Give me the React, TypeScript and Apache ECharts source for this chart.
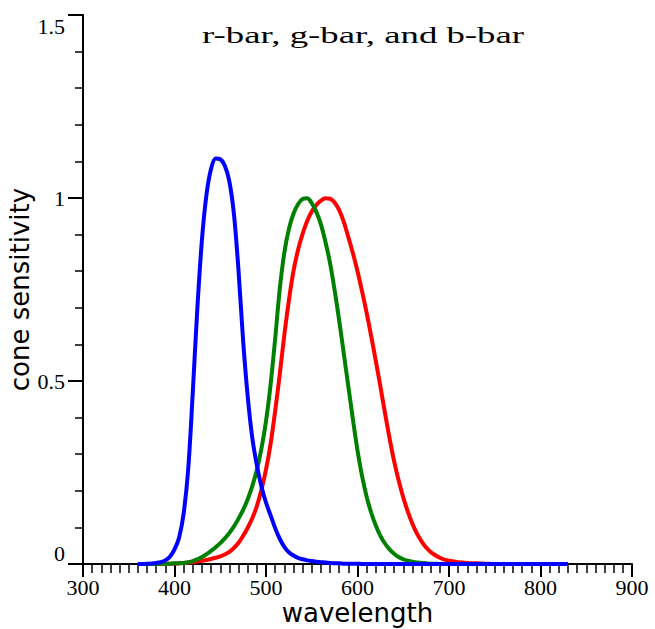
import { useEffect, useRef } from "react";
import * as echarts from "echarts";

// Wavelength samples (nm)
const wavelengths = [
  360, 370,
  380, 385, 390, 395, 400, 405, 410, 415, 420, 425,
  430, 435, 440, 445, 450, 455, 460, 465, 470, 475,
  480, 485, 490, 495, 500, 505, 510, 515, 520, 525,
  530, 535, 540, 545, 550, 555, 560, 565, 570, 575,
  580, 585, 590, 595, 600, 605, 610, 615, 620, 625,
  630, 635, 640, 645, 650, 655, 660, 665, 670, 675,
  680, 685, 690, 695, 700,
  710, 720, 730, 740, 750, 760, 770, 780, 790, 800, 810, 820, 830,
];

const rBar = [
  0, 0,
  0, 0, 0.001, 0.001, 0.001, 0.002, 0.003, 0.004, 0.005, 0.007,
  0.009, 0.011, 0.014, 0.017, 0.021, 0.026, 0.033, 0.044, 0.058, 0.077,
  0.099, 0.125, 0.158, 0.203, 0.258, 0.328, 0.418, 0.518, 0.625, 0.72,
  0.8, 0.858, 0.902, 0.937, 0.963, 0.981, 0.993, 0.999, 0.998, 0.988,
  0.967, 0.935, 0.893, 0.849, 0.8, 0.745, 0.686, 0.622, 0.555, 0.485,
  0.413, 0.344, 0.281, 0.228, 0.182, 0.143, 0.11, 0.083, 0.062, 0.045,
  0.033, 0.024, 0.017, 0.012, 0.009,
  0.005, 0.003, 0.002, 0.001, 0, 0, 0, 0, 0, 0, 0, 0, 0,
];

const gBar = [
  0, 0,
  0, 0.001, 0.001, 0.001, 0.002, 0.002, 0.003, 0.005, 0.008, 0.013,
  0.019, 0.027, 0.036, 0.046, 0.057, 0.07, 0.085, 0.103, 0.124, 0.148,
  0.177, 0.213, 0.257, 0.315, 0.39, 0.49, 0.615, 0.75, 0.85, 0.915,
  0.957, 0.983, 0.997, 0.999, 0.986, 0.962, 0.928, 0.88, 0.822, 0.748,
  0.665, 0.575, 0.485, 0.395, 0.31, 0.24, 0.184, 0.14, 0.105, 0.077,
  0.056, 0.04, 0.028, 0.019, 0.013, 0.009, 0.006, 0.004, 0.003, 0.002,
  0.001, 0.001, 0, 0, 0,
  0, 0, 0, 0, 0, 0, 0, 0, 0, 0, 0, 0, 0,
];

const bBar = [
  0, 0.001,
  0.003, 0.005, 0.01, 0.02, 0.04, 0.072, 0.138, 0.26, 0.47, 0.7,
  0.886, 1.01, 1.08, 1.108, 1.106, 1.088, 1.045, 0.955, 0.8, 0.61,
  0.458, 0.345, 0.27, 0.212, 0.168, 0.133, 0.098, 0.069, 0.047, 0.032,
  0.023, 0.017, 0.013, 0.01, 0.008, 0.006, 0.005, 0.004, 0.003, 0.002,
  0.002, 0.001, 0.001, 0.001, 0.001, 0, 0, 0, 0, 0,
  0, 0, 0, 0, 0, 0, 0, 0, 0, 0,
  0, 0, 0, 0, 0,
  0, 0, 0, 0, 0, 0, 0, 0, 0, 0, 0, 0, 0,
];

const titleText = "r-bar, g-bar, and b-bar";
const xName = "wavelength";
const yName = "cone sensitivity";

const seriesDefs = [
  { name: "r-bar", values: rBar, color: "#ff0000" },
  { name: "g-bar", values: gBar, color: "#008000" },
  { name: "b-bar", values: bBar, color: "#0000ff" },
];

export default function App() {
  const ref = useRef<HTMLDivElement>(null);

  useEffect(() => {
    if (!ref.current) return;
    const chart = echarts.init(ref.current, undefined, { renderer: "svg" });
    const black = "#000";
    chart.setOption({
      animation: false,
      backgroundColor: "#ffffff",
      grid: { left: 83, right: 23, top: 15, bottom: 65, containLabel: false, outerBoundsMode: "none" },
      graphic: [
        {
          type: "text",
          x: 202,
          y: 35.5,
          scaleX: 1.6,
          style: {
            text: titleText,
            font: '23px "Liberation Serif"',
            fill: black,
            verticalAlign: "middle",
            align: "left",
          },
        },
      ],
      xAxis: {
        type: "value",
        min: 300,
        max: 900,
        interval: 100,
        name: xName,
        nameLocation: "middle",
        nameGap: 35,
        nameMoveOverlap: false,
        nameTextStyle: { fontFamily: "DejaVu Sans", fontSize: 26, lineHeight: 27, color: black },
        axisLine: { onZero: false, lineStyle: { color: black, width: 2 } },
        axisTick: { length: 13, lineStyle: { color: black, width: 2 } },
        minorTick: { show: true, splitNumber: 10, length: 9, lineStyle: { color: black, width: 1.5 } },
        axisLabel: { margin: 12, fontFamily: "Liberation Serif", fontSize: 22, lineHeight: 22, color: black },
        splitLine: { show: false },
        minorSplitLine: { show: false },
      },
      yAxis: {
        type: "value",
        min: 0,
        max: 1.5,
        interval: 0.5,
        name: yName,
        nameLocation: "middle",
        nameGap: 50,
        nameMoveOverlap: false,
        nameTextStyle: { fontFamily: "DejaVu Sans", fontSize: 26, color: black },
        axisLine: { onZero: false, lineStyle: { color: black, width: 2 } },
        axisTick: { length: 15, lineStyle: { color: black, width: 2 } },
        minorTick: { show: true, splitNumber: 5, length: 8, lineStyle: { color: black, width: 1.5 } },
        axisLabel: {
          margin: 18,
          fontFamily: "Liberation Serif",
          fontSize: 22,
          color: black,
          verticalAlignMinLabel: "bottom",
          verticalAlignMaxLabel: "top",
        },
        splitLine: { show: false },
        minorSplitLine: { show: false },
      },
      series: seriesDefs.map((s) => ({
        name: s.name,
        type: "line",
        data: wavelengths.map((w, i) => [w, s.values[i]]),
        showSymbol: false,
        smooth: 0.35,
        lineStyle: { color: s.color, width: 4 },
        itemStyle: { color: s.color },
      })),
    });
    return () => chart.dispose();
  }, []);

  return (
    <div
      ref={ref}
      style={{ position: "fixed", left: 0, top: 0, width: 655, height: 629, background: "#fff" }}
    />
  );
}
